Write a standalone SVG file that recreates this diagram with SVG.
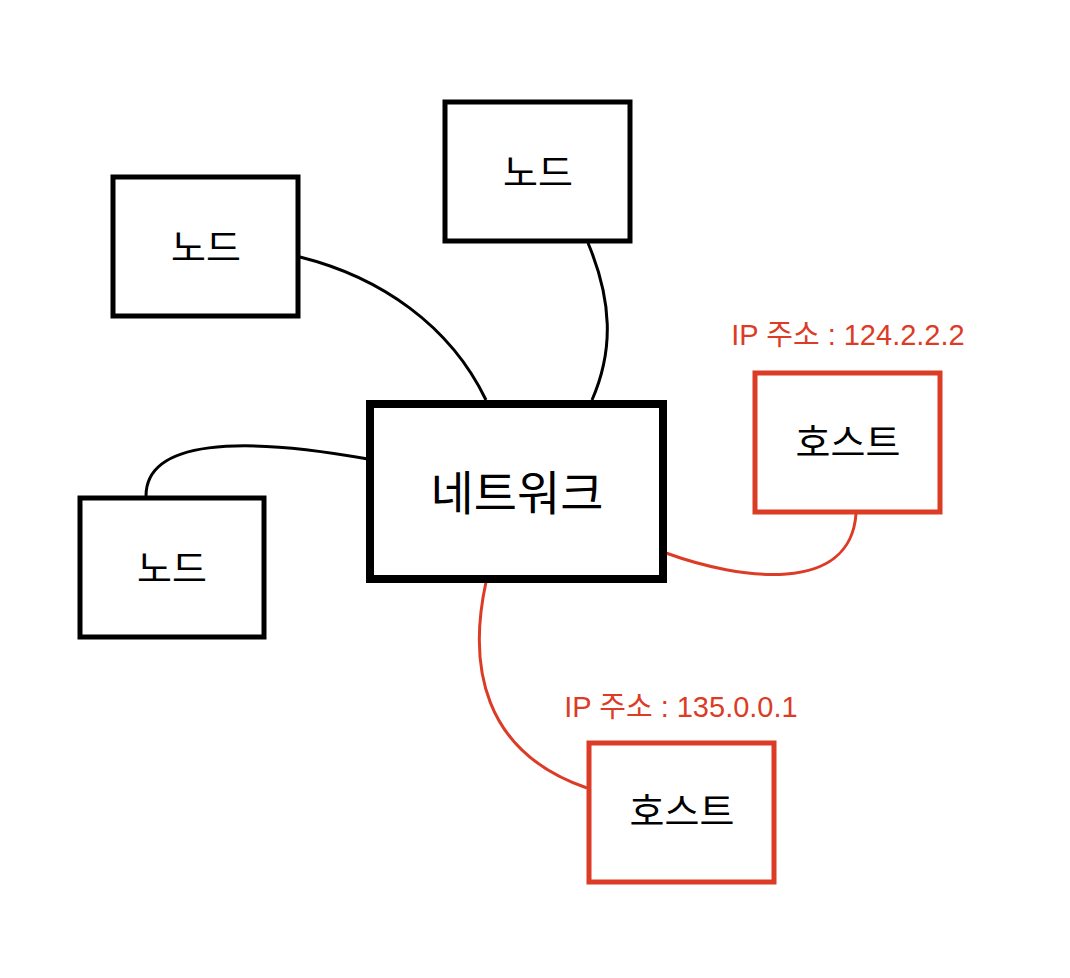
<svg xmlns="http://www.w3.org/2000/svg" width="1070" height="978" viewBox="0 0 1070 978">
<style>
.node{fill:#fff;stroke:#000;stroke-width:5}
.net{fill:#fff;stroke:#000;stroke-width:8}
.host{fill:#fff;stroke:#dc3b26;stroke-width:5}
.t{font-family:"Noto Sans CJK KR","Liberation Sans",sans-serif;fill:#000;text-anchor:middle;dominant-baseline:central;font-weight:400}
.ip{font-family:"Liberation Sans","Noto Sans CJK KR",sans-serif;fill:#dc3b26;font-size:29px;text-anchor:middle}
.c{fill:none;stroke:#000;stroke-width:3}
.cr{fill:none;stroke:#dc3b26;stroke-width:3}
</style>
<rect width="1070" height="978" fill="#fff"/>
<g id="connectors">
<path class="c" d="M300,257 C380,277 450,325 486,400"/>
<path class="c" d="M588,243 C612,300 614,350 592,400"/>
<path class="c" d="M146,496 C146,440 240,436 368,459"/>
<path class="cr" d="M666,553 C740,580 850,595 856,514"/>
<path class="cr" d="M486,582 C468,665 482,752 587,788"/>
</g>
<g id="node-topleft"><rect class="node" x="113" y="177" width="185" height="139"/><text class="t" x="206" y="244" font-size="38">노드</text></g>
<g id="node-top"><rect class="node" x="445" y="102" width="185" height="139"/><text class="t" x="538" y="169" font-size="38">노드</text></g>
<g id="node-left"><rect class="node" x="80" y="498" width="184" height="139"/><text class="t" x="172" y="565" font-size="38">노드</text></g>
<g id="network"><rect class="net" x="370" y="404" width="293" height="175"/><text class="t" x="517" y="489" font-size="47">네트워크</text></g>
<g id="host1"><rect class="host" x="755" y="373" width="185" height="139"/><text class="t" x="848" y="439" font-size="38">호스트</text><text class="ip" x="848" y="345">IP 주소 : 124.2.2.2</text></g>
<g id="host2"><rect class="host" x="589" y="743" width="185" height="139"/><text class="t" x="682" y="808" font-size="38">호스트</text><text class="ip" x="681" y="717">IP 주소 : 135.0.0.1</text></g>
</svg>
